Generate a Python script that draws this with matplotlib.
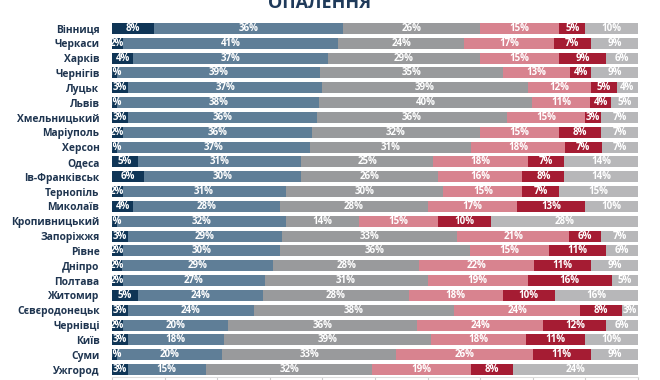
import numpy as np
import matplotlib
matplotlib.use('Agg')
import matplotlib.pyplot as plt

# DATA
cities = ['Вінниця', 'Черкаси', 'Харків', 'Чернігів', 'Луцьк', 'Львів', 'Хмельницький',
          'Маріуполь', 'Херсон', 'Одеса', 'Ів-Франківськ', 'Тернопіль', 'Миколаїв',
          'Кропивницький', 'Запоріжжя', 'Рівне', 'Дніпро', 'Полтава', 'Житомир',
          'Сєвєродонецьк', 'Чернівці', 'Київ', 'Суми', 'Ужгород']
s1 = [8, 2, 4, 1, 3, 1, 3, 2, 1, 5, 6, 2, 4, 1, 3, 2, 2, 2, 5, 3, 2, 3, 1, 3]
s2 = [36, 41, 37, 39, 37, 38, 36, 36, 37, 31, 30, 31, 28, 32, 29, 30, 29, 27, 24, 24, 20, 18, 20, 15]
s3 = [26, 24, 29, 35, 39, 40, 36, 32, 31, 25, 26, 30, 28, 14, 33, 36, 28, 31, 28, 38, 36, 39, 33, 32]
s4 = [15, 17, 15, 13, 12, 11, 15, 15, 18, 18, 16, 15, 17, 15, 21, 15, 22, 19, 18, 24, 24, 18, 26, 19]
s5 = [5, 7, 9, 4, 5, 4, 3, 8, 7, 7, 8, 7, 13, 10, 6, 11, 11, 16, 10, 8, 12, 11, 11, 8]
s6 = [10, 9, 6, 9, 4, 5, 7, 7, 7, 14, 14, 15, 10, 28, 7, 6, 9, 5, 16, 3, 6, 10, 9, 24]
series = [s1, s2, s3, s4, s5, s6]
colors = ['#0f3556', '#5f7e97', '#999a9c', '#d8838f', '#a51c33', '#b7b7b9']

vals = np.array(series, dtype=float)
widths = vals / vals.sum(axis=0) * 100  # every bar fills 100%

fig = plt.figure(figsize=(6.6, 3.8), dpi=100)
ax = fig.add_axes([112/660, 1 - 377/380, 526/660, 356/380])

y = np.arange(len(cities))
left = np.zeros(len(cities))
for k in range(len(series)):
    ax.barh(y, widths[k], left=left, height=0.74, color=colors[k], edgecolor='none')
    for i in range(len(cities)):
        ax.text(left[i] + widths[k][i] / 2, y[i], f'{series[k][i]}%', ha='center', va='center',
                color='white', fontsize=7, fontweight='bold', family='Open Sans')
    left += widths[k]

ax.set_xlim(0, 100)
ax.set_ylim(len(cities) - 0.5, -0.5)
ax.set_yticks(y)
ax.set_yticklabels(cities, fontsize=7.4, fontweight='bold', color='#1f3550', family='Open Sans')
ax.tick_params(axis='y', length=0, pad=9)
ax.set_xticks(np.arange(0, 101, 10))
ax.set_xticklabels([])
ax.tick_params(axis='x', length=4, color='#cccccc', direction='out')
for sp in ['top', 'right', 'left']:
    ax.spines[sp].set_visible(False)
ax.spines['bottom'].set_color('#dddddd')

# title is cut by the top edge, as in the source image
fig.text(320/660, 1 - 8/380, 'ОПАЛЕННЯ', ha='center', va='baseline', fontsize=13,
         fontweight='bold', color='#1f3a5a', family='Open Sans')

fig.savefig('out.png', dpi=100)
